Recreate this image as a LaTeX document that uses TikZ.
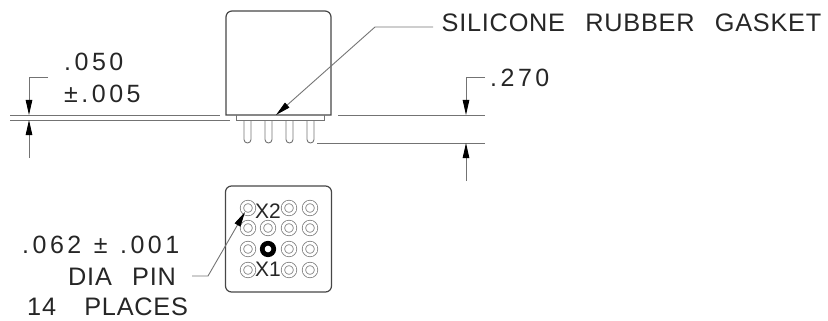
\documentclass[tikz,border=0pt]{standalone}
\usepackage{fontspec}
\usepackage{tikz}
\usetikzlibrary{arrows.meta}
\setmainfont{Liberation Sans}
\newfontfamily\dimfont[LetterSpace=3,WordSpace=2.6]{Liberation Sans}
\newfontfamily\numfont[LetterSpace=14,WordSpace=1.2]{Liberation Sans}

\begin{document}
\begin{tikzpicture}[x=1pt, y=-1pt,
	bodyline/.style={draw=black!72, line width=1.2pt},
	dimline/.style={draw=black!55, line width=0.9pt},
	dimtip/.style={-{Triangle[length=15pt,width=6.5pt,color=black]}, draw=black!55, line width=0.9pt},
	dimtext/.style={anchor=west, inner sep=0pt, font=\dimfont\fontsize{25.3}{28}\selectfont, text=black!85},
	numtext/.style={anchor=west, inner sep=0pt, font=\numfont\fontsize{25}{28}\selectfont, text=black!85},
	tagtext/.style={inner sep=0pt, font=\fontsize{21}{24}\selectfont, text=black!85},
	pinring/.style={shape=circle, draw=black!50, line width=0.8pt, double=white, double distance=2.6pt, minimum size=12pt, inner sep=0pt},
	pinmark/.style={shape=circle, draw=black, line width=4.7pt, fill=white, minimum size=11.5pt, inner sep=0pt}]
	
	\useasboundingbox (0, 0) rectangle (828, 321);
	
	% side view
	\draw[bodyline] (226, 115) [rounded corners=6pt] -- (226, 11) -- (331, 11) [sharp corners] -- (331, 115) -- cycle;
	\draw[draw=black!55, line width=0.9pt] (236, 115) -- (236, 120) -- (324, 120) -- (324, 115);
	\draw[dimline, rounded corners=3.5pt] (244, 120) -- (244, 143) -- (251, 143) -- (251, 120);
	\draw[dimline, rounded corners=3.5pt] (265, 120) -- (265, 143) -- (272, 143) -- (272, 120);
	\draw[dimline, rounded corners=3.5pt] (286, 120) -- (286, 143) -- (293, 143) -- (293, 120);
	\draw[dimline, rounded corners=3.5pt] (307, 120) -- (307, 143) -- (314, 143) -- (314, 120);
	
	% bottom view
	\node[shape=rectangle, rounded corners=6pt, draw=black!72, line width=1.2pt, minimum width=106pt, minimum height=106pt, inner sep=0pt] (base) at (278.5, 239) {};
	
	\node[pinring] (p1) at (248, 208) {};
	\node[pinring] (p3) at (289, 208) {};
	\node[pinring] (p4) at (310, 208) {};
	\node[pinring] (p5) at (248, 228) {};
	\node[pinring] (p6) at (268, 228) {};
	\node[pinring] (p7) at (289, 228) {};
	\node[pinring] (p8) at (310, 228) {};
	\node[pinring] (p9) at (248, 249) {};
	\node[pinmark] (p10) at (268, 249) {};
	\node[pinring] (p11) at (289, 249) {};
	\node[pinring] (p12) at (310, 249) {};
	\node[pinring] (p13) at (248, 270) {};
	\node[pinring] (p15) at (289, 270) {};
	\node[pinring] (p16) at (310, 270) {};
	
	\node[tagtext] (x2) at (268, 211) {X2};
	\node[tagtext] (x1) at (268, 269) {X1};
	
	% labels
	\node[dimtext] (gasket) at (441.5, 23) {SILICONE RUBBER GASKET};
	\node[numtext] (t050) at (64, 62) {.050};
	\node[numtext] (t005) at (64, 94) {±.005};
	\node[numtext] (t270) at (490, 78) {.270};
	\node[numtext] (tdia) at (22, 245) {.062 ± .001};
	\node[dimtext] (tpin) at (68, 277) {DIA PIN};
	\node[dimtext] (tplaces) at (27, 307) {14\hspace{8pt} PLACES};
	
	% leaders
	\coordinate (gasketa) at (433, 27);
	\coordinate (gasketb) at (375, 27);
	\coordinate (gaskett) at (276, 115);
	\draw[dimtip] (gasketa) -- (gasketb) -- (gaskett);
	
	\coordinate (piece) at (192, 276);
	\coordinate (pieb) at (208, 276);
	\coordinate (piet) at (245, 212);
	\draw[dimtip] (piece) -- (pieb) -- (piet);
	
	% left dimension
	\coordinate (la) at (10, 115);
	\coordinate (lb) at (220, 115);
	\coordinate (lc) at (10, 120);
	\coordinate (ld) at (230, 120);
	\path[dimline] (la) edge (lb);
	\path[dimline] (lc) edge (ld);
	\coordinate (le) at (48, 77);
	\coordinate (lf) at (29, 77);
	\coordinate (lg) at (29, 115);
	\coordinate (lh) at (29, 158);
	\coordinate (li) at (29, 120);
	\draw[dimtip] (le) -- (lf) -- (lg);
	\draw[dimtip] (lh) -- (li);
	
	% right dimension
	\coordinate (ra) at (338, 115);
	\coordinate (rb) at (485, 115);
	\coordinate (rc) at (317, 143);
	\coordinate (rd) at (485, 143);
	\path[dimline] (ra) edge (rb);
	\path[dimline] (rc) edge (rd);
	\coordinate (re) at (485, 77);
	\coordinate (rf) at (466, 77);
	\coordinate (rg) at (466, 115);
	\coordinate (rh) at (466, 181);
	\coordinate (ri) at (466, 143);
	\draw[dimtip] (re) -- (rf) -- (rg);
	\draw[dimtip] (rh) -- (ri);
\end{tikzpicture}
\end{document}
